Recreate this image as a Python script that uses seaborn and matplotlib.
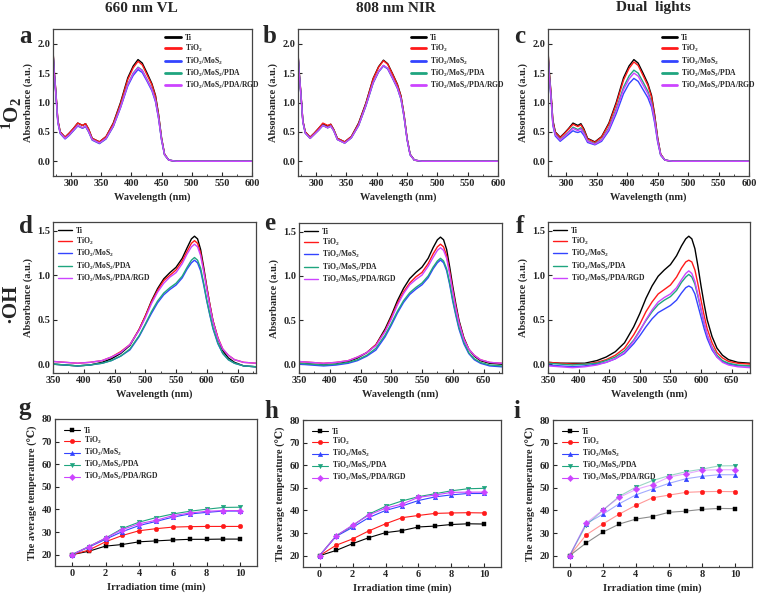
import matplotlib
matplotlib.use('Agg')
import matplotlib.pyplot as plt
from matplotlib.lines import Line2D
from matplotlib.ticker import MultipleLocator
import seaborn as sns

sns.set_style('ticks')
plt.rcParams['font.family'] = ['Liberation Serif', 'DejaVu Serif']
plt.rcParams['font.weight'] = 'bold'
plt.rcParams['axes.labelweight'] = 'bold'
plt.rcParams['mathtext.fontset'] = 'custom'
plt.rcParams['mathtext.rm'] = 'Liberation Serif:bold'
plt.rcParams['mathtext.bf'] = 'Liberation Serif:bold'
plt.rcParams['mathtext.it'] = 'Liberation Serif:bold:italic'

# ---- labels / colours ----
samples = ['Ti', r'TiO$_\mathbf{2}$', r'TiO$_\mathbf{2}$/MoS$_\mathbf{2}$',
           r'TiO$_\mathbf{2}$/MoS$_\mathbf{2}$/PDA', r'TiO$_\mathbf{2}$/MoS$_\mathbf{2}$/PDA/RGD']
colors = ['#000000', '#ff1a1a', '#3344ff', '#1fa57f', '#cc44ff']
markers = ['s', 'o', '^', 'v', 'D']
col_titles = ['660 nm VL', '808 nm NIR', 'Dual  lights']

# ---- 1O2 spectra (top row) ----
wl_top = [270, 272, 275, 278, 282, 290, 297, 304, 311, 315, 319, 324, 329, 335, 347, 358,
          370, 382, 394, 403, 411, 418, 426, 434, 440, 445, 450, 455, 462, 475, 600]

a_ti = [1.89, 1.55, 1.15, 0.70, 0.50, 0.41, 0.48, 0.56, 0.65, 0.63, 0.61, 0.64, 0.55, 0.39, 0.33, 0.42,
        0.65, 1.00, 1.42, 1.62, 1.73, 1.67, 1.50, 1.32, 1.12, 0.80, 0.40, 0.12, 0.02, 0.0, 0.0]
a_tio2 = [1.88, 1.54, 1.14, 0.70, 0.50, 0.41, 0.48, 0.56, 0.65, 0.63, 0.61, 0.64, 0.55, 0.39, 0.33, 0.42,
          0.64, 0.98, 1.39, 1.59, 1.70, 1.64, 1.47, 1.30, 1.10, 0.79, 0.39, 0.12, 0.02, 0.0, 0.0]
a_mos2 = [1.85, 1.50, 1.10, 0.66, 0.47, 0.38, 0.44, 0.52, 0.60, 0.58, 0.56, 0.59, 0.50, 0.36, 0.30, 0.38,
          0.59, 0.91, 1.28, 1.46, 1.56, 1.51, 1.36, 1.20, 1.01, 0.73, 0.36, 0.11, 0.02, 0.0, 0.0]
a_pda = [1.86, 1.51, 1.11, 0.67, 0.48, 0.39, 0.45, 0.53, 0.61, 0.59, 0.57, 0.60, 0.51, 0.37, 0.31, 0.39,
         0.60, 0.93, 1.31, 1.50, 1.60, 1.55, 1.39, 1.23, 1.04, 0.75, 0.37, 0.11, 0.02, 0.0, 0.0]
a_rgd = [1.86, 1.51, 1.11, 0.67, 0.48, 0.39, 0.45, 0.53, 0.61, 0.59, 0.57, 0.60, 0.51, 0.37, 0.31, 0.39,
         0.60, 0.92, 1.30, 1.49, 1.59, 1.54, 1.38, 1.22, 1.03, 0.74, 0.37, 0.11, 0.02, 0.0, 0.0]

b_ti = [1.85, 1.52, 1.13, 0.69, 0.50, 0.41, 0.48, 0.56, 0.64, 0.62, 0.60, 0.63, 0.54, 0.39, 0.33, 0.42,
        0.65, 0.99, 1.41, 1.61, 1.72, 1.66, 1.49, 1.31, 1.11, 0.79, 0.39, 0.12, 0.02, 0.0, 0.0]
b_tio2 = [1.84, 1.51, 1.12, 0.69, 0.50, 0.41, 0.48, 0.56, 0.65, 0.63, 0.61, 0.63, 0.54, 0.39, 0.33, 0.42,
          0.64, 0.98, 1.40, 1.60, 1.71, 1.65, 1.48, 1.30, 1.10, 0.79, 0.39, 0.12, 0.02, 0.0, 0.0]
b_mos2 = [1.82, 1.49, 1.10, 0.67, 0.48, 0.39, 0.46, 0.53, 0.61, 0.59, 0.57, 0.60, 0.52, 0.37, 0.31, 0.40,
          0.61, 0.94, 1.33, 1.52, 1.62, 1.57, 1.41, 1.24, 1.05, 0.75, 0.37, 0.11, 0.02, 0.0, 0.0]
b_pda = [1.82, 1.49, 1.10, 0.67, 0.48, 0.39, 0.46, 0.53, 0.61, 0.59, 0.57, 0.60, 0.52, 0.37, 0.31, 0.40,
         0.61, 0.95, 1.34, 1.53, 1.63, 1.58, 1.42, 1.25, 1.06, 0.76, 0.37, 0.11, 0.02, 0.0, 0.0]
b_rgd = [1.82, 1.49, 1.10, 0.67, 0.48, 0.39, 0.46, 0.53, 0.61, 0.59, 0.57, 0.60, 0.52, 0.37, 0.31, 0.40,
         0.61, 0.95, 1.34, 1.53, 1.63, 1.58, 1.42, 1.25, 1.06, 0.76, 0.37, 0.11, 0.02, 0.0, 0.0]

c_ti = [1.89, 1.55, 1.15, 0.70, 0.50, 0.41, 0.48, 0.56, 0.65, 0.63, 0.61, 0.64, 0.55, 0.39, 0.33, 0.42,
        0.65, 1.00, 1.42, 1.62, 1.73, 1.67, 1.50, 1.32, 1.12, 0.80, 0.40, 0.12, 0.02, 0.0, 0.0]
c_tio2 = [1.86, 1.52, 1.13, 0.68, 0.49, 0.40, 0.47, 0.55, 0.63, 0.61, 0.59, 0.62, 0.53, 0.38, 0.32, 0.41,
          0.63, 0.97, 1.38, 1.58, 1.69, 1.63, 1.46, 1.29, 1.09, 0.78, 0.39, 0.12, 0.02, 0.0, 0.0]
c_mos2 = [1.80, 1.45, 1.06, 0.61, 0.43, 0.34, 0.40, 0.46, 0.52, 0.50, 0.49, 0.51, 0.44, 0.32, 0.28, 0.34,
          0.52, 0.81, 1.15, 1.32, 1.41, 1.36, 1.22, 1.08, 0.92, 0.66, 0.33, 0.10, 0.02, 0.0, 0.0]
c_pda = [1.82, 1.48, 1.09, 0.64, 0.46, 0.37, 0.43, 0.50, 0.58, 0.56, 0.54, 0.57, 0.49, 0.35, 0.30, 0.37,
         0.57, 0.89, 1.26, 1.45, 1.55, 1.50, 1.35, 1.19, 1.00, 0.72, 0.36, 0.11, 0.02, 0.0, 0.0]
c_rgd = [1.81, 1.47, 1.08, 0.63, 0.45, 0.36, 0.42, 0.49, 0.56, 0.54, 0.52, 0.55, 0.47, 0.34, 0.29, 0.36,
         0.55, 0.86, 1.22, 1.40, 1.50, 1.45, 1.30, 1.15, 0.97, 0.70, 0.35, 0.11, 0.02, 0.0, 0.0]

# ---- .OH spectra (middle row) ----
wl_mid = [350, 370, 390, 410, 430, 445, 460, 475, 490, 500, 510, 520, 530, 540, 550, 560,
          568, 575, 580, 585, 590, 595, 600, 605, 610, 618, 626, 635, 645, 660, 680]

d_ti = [0.0, -0.01, -0.02, -0.01, 0.02, 0.06, 0.12, 0.21, 0.39, 0.54, 0.71, 0.85, 0.96, 1.03, 1.09, 1.19,
        1.31, 1.41, 1.44, 1.41, 1.29, 1.09, 0.87, 0.67, 0.49, 0.29, 0.15, 0.07, 0.02, -0.02, -0.03]
d_tio2 = [0.03, 0.02, 0.01, 0.02, 0.04, 0.08, 0.14, 0.22, 0.39, 0.54, 0.70, 0.83, 0.94, 1.00, 1.06, 1.16,
          1.27, 1.36, 1.39, 1.36, 1.25, 1.06, 0.86, 0.67, 0.49, 0.30, 0.17, 0.10, 0.05, 0.02, 0.01]
d_mos2 = [0.0, -0.01, -0.02, -0.01, 0.01, 0.04, 0.09, 0.16, 0.31, 0.44, 0.57, 0.69, 0.78, 0.84, 0.89, 0.97,
          1.07, 1.14, 1.17, 1.14, 1.05, 0.89, 0.71, 0.55, 0.40, 0.23, 0.12, 0.05, 0.01, -0.02, -0.03]
d_pda = [0.0, -0.01, -0.02, -0.01, 0.01, 0.04, 0.09, 0.17, 0.32, 0.45, 0.59, 0.71, 0.80, 0.86, 0.91, 0.99,
         1.09, 1.17, 1.20, 1.17, 1.08, 0.91, 0.72, 0.56, 0.41, 0.24, 0.12, 0.05, 0.01, -0.02, -0.03]
d_rgd = [0.03, 0.02, 0.01, 0.02, 0.04, 0.08, 0.13, 0.22, 0.38, 0.52, 0.68, 0.81, 0.91, 0.98, 1.03, 1.13,
         1.24, 1.32, 1.35, 1.32, 1.22, 1.04, 0.84, 0.65, 0.48, 0.29, 0.17, 0.10, 0.05, 0.02, 0.01]

e_ti = [0.01, 0.0, -0.01, 0.0, 0.03, 0.07, 0.13, 0.22, 0.40, 0.55, 0.72, 0.86, 0.97, 1.04, 1.10, 1.20,
        1.32, 1.41, 1.44, 1.41, 1.30, 1.10, 0.88, 0.68, 0.50, 0.30, 0.17, 0.09, 0.04, 0.01, 0.0]
e_tio2 = [0.03, 0.02, 0.01, 0.02, 0.04, 0.08, 0.13, 0.22, 0.38, 0.53, 0.69, 0.82, 0.92, 0.99, 1.04, 1.14,
          1.25, 1.33, 1.36, 1.33, 1.23, 1.05, 0.84, 0.65, 0.48, 0.29, 0.17, 0.10, 0.05, 0.02, 0.01]
e_mos2 = [0.0, -0.01, -0.02, -0.01, 0.01, 0.04, 0.09, 0.16, 0.31, 0.44, 0.58, 0.70, 0.79, 0.85, 0.90, 0.98,
          1.08, 1.15, 1.18, 1.15, 1.06, 0.90, 0.71, 0.55, 0.40, 0.23, 0.12, 0.05, 0.01, -0.02, -0.03]
e_pda = [0.01, 0.0, -0.01, 0.0, 0.02, 0.05, 0.10, 0.18, 0.33, 0.46, 0.60, 0.72, 0.81, 0.87, 0.92, 1.00,
         1.10, 1.17, 1.20, 1.17, 1.08, 0.92, 0.73, 0.57, 0.42, 0.25, 0.13, 0.06, 0.02, -0.01, -0.02]
e_rgd = [0.03, 0.02, 0.01, 0.02, 0.04, 0.08, 0.13, 0.21, 0.37, 0.51, 0.67, 0.80, 0.90, 0.96, 1.01, 1.11,
         1.21, 1.29, 1.32, 1.29, 1.20, 1.02, 0.82, 0.63, 0.47, 0.28, 0.17, 0.10, 0.05, 0.02, 0.01]

f_ti = [0.02, 0.01, 0.01, 0.01, 0.04, 0.08, 0.14, 0.24, 0.42, 0.57, 0.74, 0.88, 0.99, 1.06, 1.12, 1.22,
        1.33, 1.41, 1.44, 1.41, 1.30, 1.10, 0.88, 0.68, 0.50, 0.31, 0.18, 0.10, 0.05, 0.02, 0.01]
f_tio2 = [0.02, 0.01, 0.0, 0.0, 0.02, 0.05, 0.10, 0.18, 0.33, 0.45, 0.59, 0.70, 0.79, 0.84, 0.89, 0.98,
          1.08, 1.15, 1.17, 1.15, 1.06, 0.90, 0.72, 0.55, 0.40, 0.24, 0.13, 0.07, 0.03, 0.01, 0.0]
f_mos2 = [-0.01, -0.02, -0.03, -0.02, 0.0, 0.02, 0.06, 0.12, 0.23, 0.32, 0.42, 0.51, 0.58, 0.62, 0.66, 0.72,
          0.80, 0.86, 0.88, 0.86, 0.79, 0.66, 0.53, 0.40, 0.29, 0.16, 0.08, 0.03, 0.0, -0.02, -0.02]
f_pda = [0.01, 0.0, -0.01, 0.0, 0.01, 0.04, 0.08, 0.15, 0.27, 0.38, 0.49, 0.59, 0.67, 0.72, 0.76, 0.83,
         0.92, 0.98, 1.01, 0.98, 0.90, 0.76, 0.61, 0.46, 0.33, 0.19, 0.10, 0.04, 0.01, -0.01, -0.02]
f_rgd = [-0.02, -0.03, -0.04, -0.03, -0.01, 0.02, 0.06, 0.13, 0.26, 0.37, 0.50, 0.61, 0.70, 0.75, 0.79, 0.86,
         0.95, 1.02, 1.05, 1.02, 0.93, 0.78, 0.62, 0.47, 0.33, 0.18, 0.08, 0.02, -0.01, -0.03, -0.04]

# ---- photothermal curves (bottom row) ----
time_min = [0, 1, 2, 3, 4, 5, 6, 7, 8, 9, 10]

g_ti = [20, 21.5, 23.8, 24.5, 25.7, 26.1, 26.5, 26.8, 26.8, 26.9, 26.9]
g_tio2 = [20, 22.0, 25.7, 28.5, 30.6, 31.5, 32.2, 32.4, 32.5, 32.5, 32.5]
g_mos2 = [20, 23.3, 26.8, 30.2, 32.9, 34.7, 36.6, 38.0, 38.7, 39.3, 39.3]
g_pda = [20, 23.6, 27.3, 31.6, 34.4, 36.4, 38.0, 39.2, 40.1, 40.9, 41.0]
g_rgd = [20, 23.5, 27.3, 31.1, 33.7, 35.2, 37.3, 38.4, 39.2, 39.5, 39.5]

h_ti = [20, 22.3, 25.3, 28.0, 30.2, 31.1, 32.7, 33.1, 33.8, 34.1, 34.0]
h_tio2 = [20, 24.6, 27.4, 31.0, 34.1, 36.8, 37.8, 38.7, 38.9, 39.0, 38.9]
h_mos2 = [20, 28.5, 32.5, 36.9, 40.0, 42.0, 44.4, 46.0, 46.9, 47.5, 47.5]
h_pda = [20, 28.8, 33.2, 38.4, 41.8, 44.2, 46.1, 47.4, 48.7, 49.6, 49.8]
h_rgd = [20, 28.7, 33.5, 38.0, 41.0, 42.8, 45.8, 46.8, 48.0, 48.1, 48.1]

i_ti = [20, 25.6, 30.4, 34.0, 36.2, 37.3, 39.2, 39.7, 40.5, 40.9, 40.8]
i_tio2 = [20, 29.2, 34.0, 38.4, 42.3, 45.6, 46.8, 48.0, 48.3, 48.4, 48.3]
i_mos2 = [20, 34.2, 38.3, 43.0, 46.9, 49.5, 52.0, 54.0, 55.1, 55.8, 55.8]
i_pda = [20, 33.5, 40.0, 46.3, 50.3, 53.2, 55.4, 57.1, 58.3, 59.7, 59.8]
i_rgd = [20, 34.4, 40.2, 45.8, 49.3, 51.4, 54.8, 56.2, 57.8, 58.0, 58.0]

top_sets = [[a_ti, a_tio2, a_mos2, a_pda, a_rgd],
            [b_ti, b_tio2, b_mos2, b_pda, b_rgd],
            [c_ti, c_tio2, c_mos2, c_pda, c_rgd]]
mid_sets = [[d_ti, d_tio2, d_mos2, d_pda, d_rgd],
            [e_ti, e_tio2, e_mos2, e_pda, e_rgd],
            [f_ti, f_tio2, f_mos2, f_pda, f_rgd]]
bot_sets = [[g_ti, g_tio2, g_mos2, g_pda, g_rgd],
            [h_ti, h_tio2, h_mos2, h_pda, h_rgd],
            [i_ti, i_tio2, i_mos2, i_pda, i_rgd]]

W, H = 757, 594
fig = plt.figure(figsize=(W / 100, H / 100), dpi=100)


def px_axes(l, t, r, b):
    return fig.add_axes([l / W, 1 - b / H, (r - l) / W, (b - t) / H])


def style(ax):
    ax.tick_params(direction='in', labelsize=7.5, width=0.8, length=3, pad=2)
    ax.tick_params(which='minor', direction='in', width=0.6, length=1.8)
    for s in ax.spines.values():
        s.set_linewidth(0.9)
        s.set_color('#444444')


top_pos = [(53, 29, 252, 176), (298, 29, 498, 176), (548, 29, 749, 176)]
mid_pos = [(53, 222, 256, 373), (299, 223, 502, 373), (548, 222, 750, 373)]
bot_pos = [(55, 419, 257, 566), (303, 420, 501, 567), (553, 420, 752, 567)]

# top row
for k in range(3):
    ax = px_axes(*top_pos[k])
    for vals, c in zip(top_sets[k], colors):
        sns.lineplot(x=wl_top, y=vals, ax=ax, color=c, lw=1.0, legend=False)
    ax.set_xlim(270, 600)
    ax.set_ylim(-0.25, 2.25)
    ax.set_xticks([300, 350, 400, 450, 500, 550, 600])
    ax.set_yticks([0.0, 0.5, 1.0, 1.5, 2.0])
    ax.xaxis.set_minor_locator(MultipleLocator(25))
    ax.set_xlabel('Wavelength (nm)', fontsize=7.5, labelpad=3)
    ax.set_ylabel('Absorbance (a.u.)', fontsize=7.5, labelpad=3)
    style(ax)
    hs = [Line2D([], [], color=c, lw=2.0) for c in colors]
    ax.legend(hs, samples, loc='upper left', bbox_to_anchor=(0.54, 1.0), frameon=False,
              fontsize=5.5, handlelength=2.0, labelspacing=0.15, handletextpad=0.5,
              borderaxespad=0.25)

# middle row
for k in range(3):
    ax = px_axes(*mid_pos[k])
    for vals, c in zip(mid_sets[k], colors):
        sns.lineplot(x=wl_mid, y=vals, ax=ax, color=c, lw=1.0, legend=False)
    ax.set_xlim(350, 680)
    ax.set_ylim(-0.1, 1.6)
    ax.set_xticks([350, 400, 450, 500, 550, 600, 650])
    ax.set_yticks([0.0, 0.5, 1.0, 1.5])
    ax.xaxis.set_minor_locator(MultipleLocator(25))
    ax.set_xlabel('Wavelength (nm)', fontsize=7.5, labelpad=3)
    ax.set_ylabel('Absorbance (a.u.)', fontsize=7.5, labelpad=3)
    style(ax)
    hs = [Line2D([], [], color=c, lw=1.0) for c in colors]
    ax.legend(hs, samples, loc='upper left', bbox_to_anchor=(0.0, 1.0), frameon=False,
              fontsize=5.5, handlelength=1.9, labelspacing=0.15, handletextpad=0.5,
              borderaxespad=0.2)

# bottom row
for k in range(3):
    ax = px_axes(*bot_pos[k])
    line_alpha = 0.45 if k == 2 else 1.0
    for vals, c, m in zip(bot_sets[k], colors, markers):
        sns.lineplot(x=time_min, y=vals, ax=ax, color=c, lw=0.8, alpha=line_alpha, legend=False)
        sns.scatterplot(x=time_min, y=vals, ax=ax, color=c, marker=m, s=11,
                        edgecolor=c, linewidth=0.3, legend=False, zorder=3)
    ax.set_xlim(-1, 11)
    ax.set_ylim(15, 80)
    ax.set_xticks([0, 2, 4, 6, 8, 10])
    ax.set_yticks([20, 30, 40, 50, 60, 70, 80])
    ax.xaxis.set_minor_locator(MultipleLocator(1))
    ax.set_xlabel('Irradiation time (min)', fontsize=7.5, labelpad=3)
    ax.set_ylabel('The average temperature (\u2103)', fontsize=7.5, labelpad=3)
    style(ax)
    hs = [Line2D([], [], color=c, lw=0.8, marker=m, markersize=3.2, markeredgewidth=0.3)
          for c, m in zip(colors, markers)]
    ax.legend(hs, samples, loc='upper left', bbox_to_anchor=(0.02, 0.98), frameon=False,
              fontsize=5.5, handlelength=2.2, labelspacing=0.1, handletextpad=0.5,
              borderaxespad=0.2)

# column titles
for x, t in zip([141, 396, 653], col_titles):
    fig.text(x / W, 1 - 8 / H, t, ha='center', va='center', fontsize=11, fontweight='bold')

# panel letters
letters = [('a', 25, 43), ('b', 270, 43), ('c', 520, 43),
           ('d', 26, 233), ('e', 270, 230), ('f', 520, 233),
           ('g', 25, 415), ('h', 271, 418), ('i', 517, 418)]
for t, x, y in letters:
    fig.text(x / W, 1 - y / H, t, ha='center', va='baseline', fontsize=18, fontweight='bold')

# row labels
fig.text(12 / W, 1 - 113 / H, r'$^\mathbf{1}$O$_\mathbf{2}$', rotation=90, ha='center', va='center',
         fontsize=15, fontweight='bold')
fig.text(10 / W, 1 - 303 / H, '\u00b7OH', rotation=90, ha='center', va='center',
         fontsize=15, fontweight='bold')

fig.savefig('out.png', dpi=100, facecolor='white')
